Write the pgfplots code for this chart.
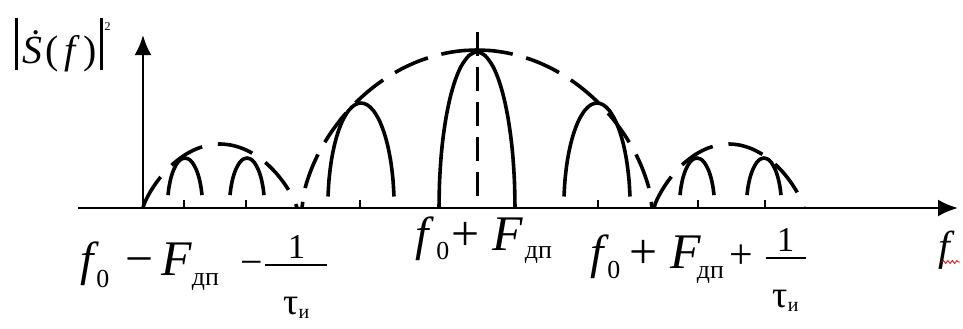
\documentclass[border=0pt]{standalone}
\usepackage{fontspec}
\setmainfont{Liberation Serif}
\usepackage{pgfplots}
\pgfplotsset{compat=1.18}
\usetikzlibrary{arrows.meta,decorations.pathmorphing}

\newcommand{\fs}[1]{\fontsize{#1}{#1}\selectfont}
% lowered upright index
\newcommand{\lsub}[2][10]{\raisebox{-#1bp}{\fs{26}\upshape #2}}
% 1 over tau_i, with a bar of the given width
\newcommand{\ftau}[1]{%
 \makebox[#1][c]{\raisebox{17bp}{\fs{35}1}}\hspace{-#1}%
 \makebox[#1][c]{\raisebox{-39bp}{\fs{38}τ\raisebox{-4bp}{\fs{20}и}}}\hspace{-#1}%
 \rule[9bp]{#1}{2bp}}
\newcommand{\ff}{{\fs{48}\itshape f}}
\newcommand{\FF}{{\fs{50}\itshape F}}

\begin{document}
\begin{tikzpicture}
\begin{axis}[
  x=1bp, y=1bp,
  xmin=-65, xmax=815, ymin=0, ymax=173,
  axis lines=middle,
  axis line style={line width=2.6bp, -{Latex[length=20bp,width=17bp]}},
  every inner x axis line/.append style={-{Latex[length=20bp,width=17bp]}},
  every inner y axis line/.append style={-{Latex[length=20bp,width=17bp]}},
  xtick={41,103,217,455,555,622},
  xticklabel=\empty,
  ytick=\empty,
  major tick length=8bp,
  tick align=inside,
  tick style={line width=2.6bp, black},
  clip=false,
  every axis plot/.append style={line width=3.6bp, black},
  font=\fs{44},
]
% picture extent
\path (axis cs:-143,-120) rectangle (axis cs:820,208);

% main envelope, drawn from the top outward
\addplot[smooth, dash pattern=on 36bp off 14bp] coordinates {
 (334,158) (319,157.3) (304,155.1) (289,151.4) (274,146.2) (259,139.3)
 (244,130.6) (229,119.8) (214,106.6) (199,90.2) (186,72.5) (176,55.5)
 (169,40.4) (164,26.5) (161,15.1) (159,0)};
\addplot[smooth, dash pattern=on 36bp off 14bp] coordinates {
 (334,158) (349,157.3) (364,155.1) (379,151.4) (394,146.2) (409,139.3)
 (424,130.6) (439,119.8) (454,106.6) (469,90.2) (482,72.5) (492,55.5)
 (499,40.4) (504,26.5) (507,15.1) (509,0)};

% side envelopes
\addplot[smooth, dash pattern=on 36bp off 16bp] coordinates {
 (0,0) (1.5,4.8) (3.85,9.9) (7.7,16.9) (13.9,26.2) (21.6,35.7) (30.8,44.8)
 (42.35,53.4) (53.9,59.3) (65.45,62.8) (77,64) (88.55,62.8) (100.1,59.3)
 (111.65,53.4) (123.2,44.8) (132.4,35.7) (140.1,26.2) (146.3,16.9)
 (150.15,9.9) (152.5,4.8) (154,0)};
\addplot[smooth, dash pattern=on 36bp off 16bp] coordinates {
 (511,0) (512.5,4.8) (514.75,9.9) (518.5,16.9) (524.5,26.2) (532,35.7)
 (541,44.8) (552.25,53.4) (563.5,59.3) (574.75,62.8) (586,64) (597.25,62.8)
 (608.5,59.3) (619.75,53.4) (631,44.8) (640,35.7) (647.5,26.2) (653.5,16.9)
 (657.25,9.9) (659.5,4.8) (661,0)};

% central line
\addplot[line width=3bp, dash pattern=on 24bp off 11bp] coordinates {(334,176) (334,0)};

% central lobe
\addplot[smooth] coordinates {
 (296,0) (296.5,25.3) (298,50.0) (300,69.7) (303,90.2) (307,109.8)
 (312,127.2) (318,141.5) (326,152.5) (334,156) (342,152.5) (350,141.5)
 (356,127.2) (361,109.8) (365,90.2) (368,69.7) (370,50.0) (371.5,25.3) (372,0)};

% first lobes
\addplot[smooth] coordinates {
 (185,11.5) (186,28.0) (188,45.0) (191,61.1) (195,75.7) (200,88.2) (206,97.9)
 (212,103.3) (218,105) (224,103.3) (230,97.9) (236,88.2) (241,75.7)
 (245,61.1) (248,45.0) (250,28.0) (251,11.5)};
\addplot[smooth] coordinates {
 (421,11.5) (422,28.0) (424,45.0) (427,61.1) (431,75.7) (436,88.2) (442,97.9)
 (448,103.3) (454,105) (460,103.3) (466,97.9) (472,88.2) (477,75.7)
 (481,61.1) (484,45.0) (486,28.0) (487,11.5)};

% outer lobes
\addplot[smooth] coordinates {
 (25,12.9) (26,20.8) (28,30.3) (31,39.0) (35,45.9) (38.5,49.0) (42,50)
 (45.5,49.0) (49,45.9) (53,39.0) (56,30.3) (58,20.8) (59,12.9)};
\addplot[smooth] coordinates {
 (87,12.9) (88,20.8) (90,30.3) (93,39.0) (97,45.9) (100.5,49.0) (104,50)
 (107.5,49.0) (111,45.9) (115,39.0) (118,30.3) (120,20.8) (121,12.9)};
\addplot[smooth] coordinates {
 (537,12.9) (538,20.8) (540,30.3) (543,39.0) (547,45.9) (550.5,49.0) (554,50)
 (557.5,49.0) (561,45.9) (565,39.0) (568,30.3) (570,20.8) (571,12.9)};
\addplot[smooth] coordinates {
 (604,12.9) (605,20.8) (607,30.3) (610,39.0) (614,45.9) (617.5,49.0) (621,50)
 (624.5,49.0) (628,45.9) (632,39.0) (635,30.3) (637,20.8) (638,12.9)};

% |S(f)|^2
\node[anchor=base west, inner sep=0] at (axis cs:-128,145) {\fs{40}%
 \rule[-7bp]{2.5bp}{52bp}\hspace{5bp}{\itshape\.{S}}\hspace{3bp}(\hspace{6bp}{\itshape f}\hspace{8bp})\hspace{3bp}%
 \rule[-7bp]{2.5bp}{52bp}\hspace{2bp}\raisebox{33bp}{\fs{12}2}};

% f0 - Fdp - 1/tau
\node[anchor=base west, inner sep=0] at (axis cs:-63,-67) {%
 \ff\hspace{3bp}\lsub[12]{0}\hspace{16bp}{\fs{50}−}\hspace{8bp}\FF\lsub{дп}\hspace{22bp}{\fs{40}−}\hspace{2bp}\ftau{62bp}};

% f0 + Fdp
\node[anchor=base west, inner sep=0] at (axis cs:272,-42) {%
 \ff\hspace{8bp}\lsub[9]{0}\hspace{2bp}{\fs{50}+}\hspace{13bp}\FF\hspace{2bp}\lsub[8]{дп}};

% f0 + Fdp + 1/tau
\node[anchor=base west, inner sep=0] at (axis cs:447,-60) {%
 \ff\hspace{4bp}\lsub{0}\hspace{9bp}{\fs{50}+}\hspace{13bp}\FF\hspace{-4bp}\lsub{дп}\hspace{5bp}{\fs{42}+}\hspace{13bp}\ftau{40bp}};

% axis name, with a spelling underline
\node[anchor=base west, inner sep=0] (flab) at (axis cs:795,-52) {\fs{42}\itshape f};
\draw[red!85!black, line width=0.8bp, decorate,
      decoration={snake, amplitude=1.5bp, segment length=4.5bp}]
 ([xshift=4bp,yshift=-2bp]flab.base west) -- ([xshift=10bp,yshift=-2bp]flab.base east);
\end{axis}
\end{tikzpicture}
\end{document}
